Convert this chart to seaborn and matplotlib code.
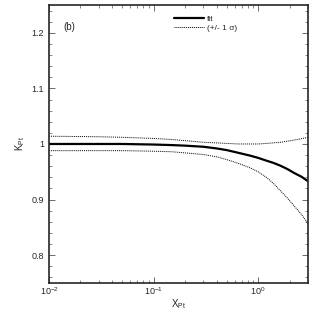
import seaborn as sns
import matplotlib.pyplot as plt
import matplotlib.ticker as mticker
import pandas as pd

# values
x_pt = [0.01, 0.03, 0.05, 0.1, 0.15, 0.2, 0.3, 0.4, 0.5, 0.65, 0.84, 1.0, 1.2, 1.4, 1.63, 1.9, 2.2, 2.6, 3.0]
k_fit = [1.000, 1.000, 1.000, 0.999, 0.998, 0.997, 0.995, 0.992, 0.989, 0.984, 0.979, 0.975,
         0.970, 0.966, 0.961, 0.955, 0.948, 0.941, 0.933]
k_low = [0.988, 0.988, 0.988, 0.987, 0.986, 0.984, 0.981, 0.977, 0.972, 0.965, 0.957, 0.950,
         0.940, 0.929, 0.916, 0.903, 0.889, 0.873, 0.857]
k_up = [1.014, 1.013, 1.012, 1.010, 1.008, 1.006, 1.003, 1.002, 1.001, 1.000, 1.000, 1.000,
        1.001, 1.002, 1.003, 1.005, 1.007, 1.0095, 1.012]

df = pd.DataFrame({'x': x_pt, 'fit': k_fit, 'low': k_low, 'up': k_up})

sns.set_style('ticks')
plt.rcParams['font.family'] = ['Liberation Sans', 'DejaVu Sans']
plt.rcParams['mathtext.fontset'] = 'custom'
plt.rcParams['mathtext.rm'] = 'Liberation Sans'
plt.rcParams['mathtext.it'] = 'Liberation Sans'

fig = plt.figure(figsize=(3.14, 3.13), dpi=100)
ax = fig.add_axes([0.156, 0.096, 0.825, 0.888])

sns.lineplot(data=df, x='x', y='fit', ax=ax, color='black', linewidth=1.6, label='fit')
sns.lineplot(data=df, x='x', y='up', ax=ax, color='black', linewidth=0.7,
             linestyle=(0, (1, 1)), label='(+/- 1 σ)')
sns.lineplot(data=df, x='x', y='low', ax=ax, color='black', linewidth=0.7,
             linestyle=(0, (1, 1)))

ax.set_xscale('log')
ax.set_xlim(0.01, 3.0)
ax.set_ylim(0.75, 1.25)
ax.yaxis.set_major_locator(mticker.MultipleLocator(0.1))
ax.yaxis.set_minor_locator(mticker.MultipleLocator(0.02))
ax.yaxis.set_major_formatter(mticker.FormatStrFormatter('%g'))
ax.xaxis.set_minor_locator(mticker.LogLocator(base=10, subs=range(2, 10)))

ax.tick_params(which='both', direction='in', top=True, right=True, labelsize=6.5, color='#555555')
ax.tick_params(which='major', length=4, width=0.6)
ax.tick_params(which='minor', length=2.5, width=0.5)
ax.tick_params(axis='x', pad=2)
for s in ax.spines.values():
    s.set_linewidth(1.2)

ax.set_xlabel('X$_{\\mathrm{Pt}}$', fontsize=7, labelpad=0)
ax.set_ylabel('K$_{\\mathrm{Pt}}$', fontsize=7, labelpad=3)
ax.text(0.054, 0.91, '(b)', transform=ax.transAxes, fontsize=7)

ax.legend(loc='upper left', bbox_to_anchor=(0.46, 0.985), frameon=False, fontsize=6,
          handlelength=3.6, handletextpad=0.4, labelspacing=0.1, borderpad=0.2)

fig.savefig('out.png', dpi=100)
